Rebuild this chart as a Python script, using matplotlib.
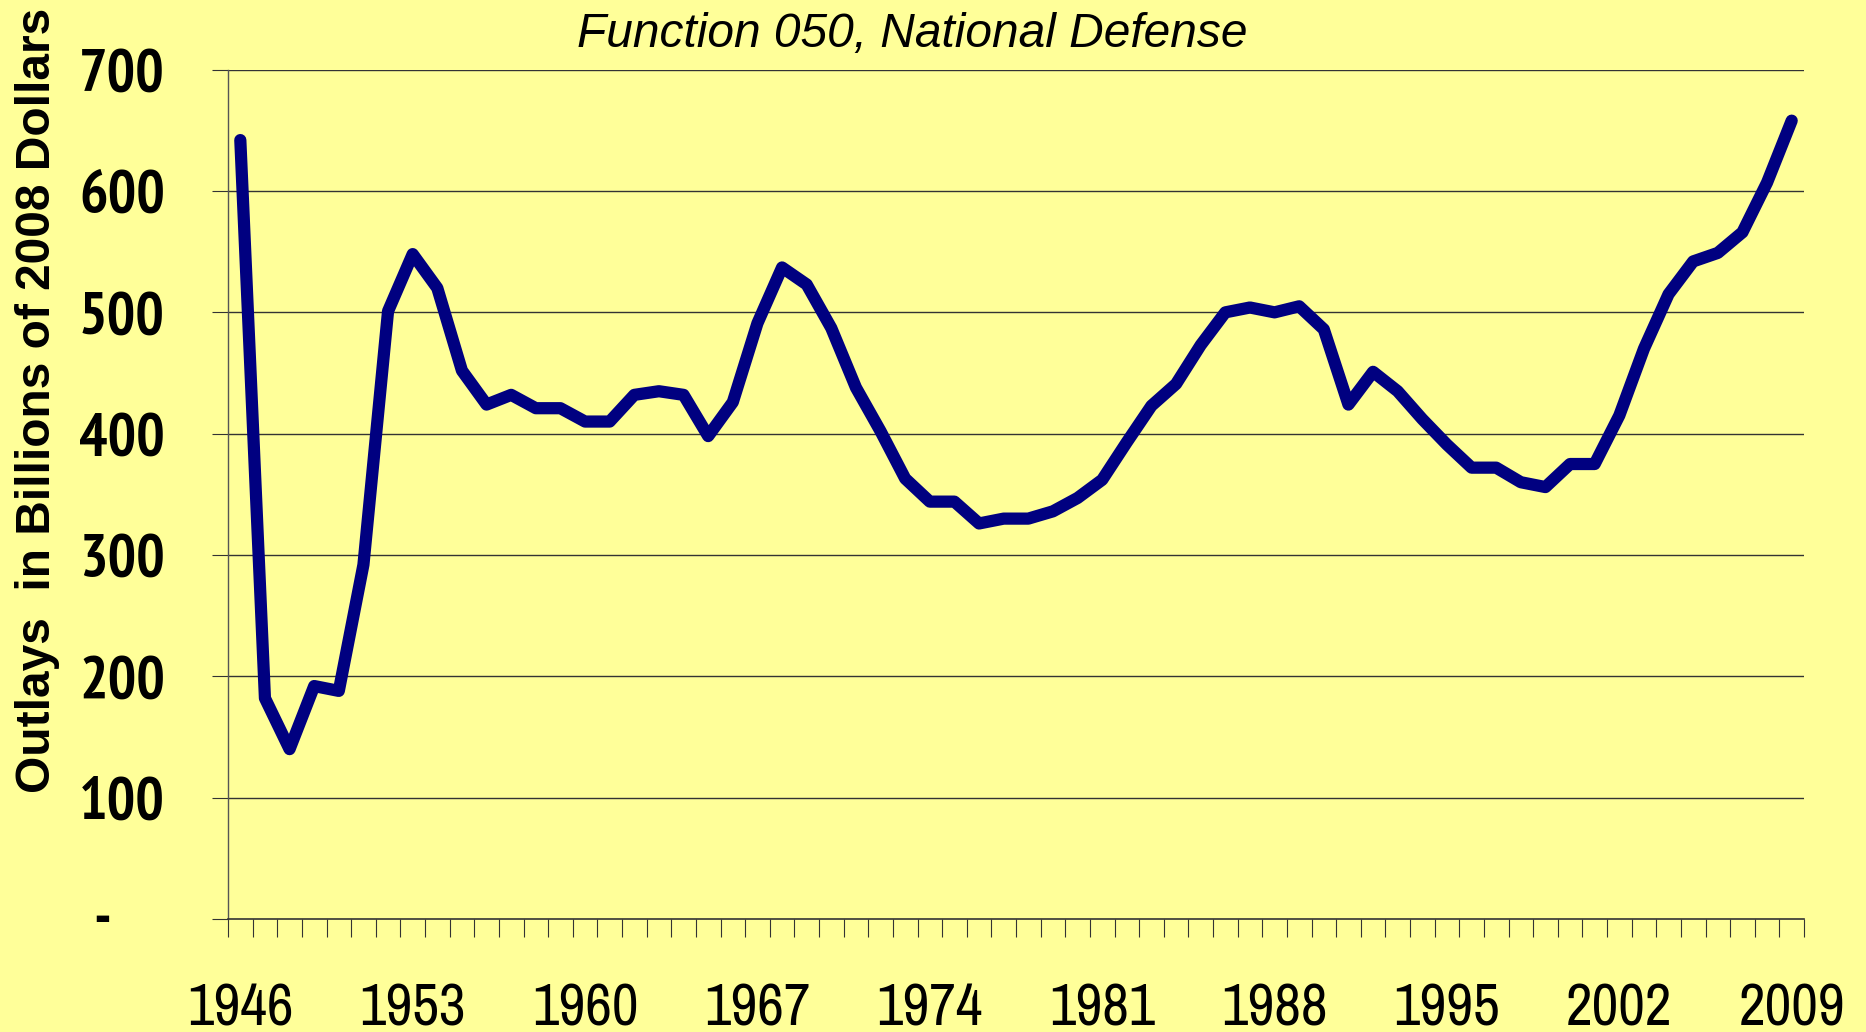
import matplotlib
matplotlib.use("Agg")
import numpy as np
from matplotlib import pyplot as plt
from matplotlib import font_manager
from matplotlib.ticker import FixedLocator, NullFormatter

years = list(range(1946, 2010))
outlays = [642, 182, 140, 192, 188, 292, 501, 548, 520, 452,
           424, 432, 421, 421, 410, 410, 432, 435, 432, 398,
           426, 491, 537, 523, 487, 438, 402, 363, 344, 344,
           326, 330, 330, 336, 347, 362, 393, 423, 441, 473,
           500, 504, 500, 505, 486, 424, 451, 435, 412, 391,
           372, 372, 360, 356, 375, 375, 415, 470, 515, 542,
           549, 566, 607, 658]
label_years = [1946, 1953, 1960, 1967, 1974, 1981, 1988, 1995, 2002, 2009]
y_ticks = [0, 100, 200, 300, 400, 500, 600, 700]

title = "Function 050, National Defense"
ylabel = "Outlays  in Billions of 2008 Dollars"

bg = "#FFFF99"
line_color = "#000080"

# Arial Narrow look-alikes; the bold one must really have a bold face installed
narrow_pref = ["Liberation Sans Narrow", "Arial Narrow", "Archivo Narrow", "PT Sans Narrow",
               "Roboto Condensed", "Sofia Sans Condensed", "Barlow Condensed"]
faces = font_manager.fontManager.ttflist
regular = [n for n in narrow_pref if any(f.name == n for f in faces)]
bold = [n for n in narrow_pref if any(f.name == n and f.weight in (700, "bold") for f in faces)]
narrow = regular[:1] + ["DejaVu Sans"]
narrow_bold = (bold or regular)[:1] + ["DejaVu Sans"]
wide = ["Liberation Sans", "DejaVu Sans"]

W, H, dpi = 1866, 1032, 100
fig = plt.figure(figsize=(W / dpi, H / dpi), dpi=dpi, facecolor=bg)
ax = fig.add_axes([228 / W, 113 / H, (1804 - 228) / W, (919 - 69.7) / H])
ax.set_facecolor(bg)

x = np.arange(len(years))
ax.plot(x, outlays, color=line_color, lw=8.8, solid_capstyle="round",
        solid_joinstyle="round", zorder=3)

ax.set_xlim(-0.5, len(years) - 0.5)
ax.set_ylim(0, 700)

for v in y_ticks[1:]:
    ax.axhline(v, color="#333333", lw=1.0, zorder=1)

for s in ["top", "right"]:
    ax.spines[s].set_visible(False)
ax.spines["left"].set_color("#555555")
ax.spines["bottom"].set_color("#333333")
ax.spines["left"].set_linewidth(1.0)
ax.spines["bottom"].set_linewidth(1.2)

# x: ticks at category boundaries, labels at category centres
ax.xaxis.set_major_locator(FixedLocator(np.arange(len(years) + 1) - 0.5))
ax.xaxis.set_major_formatter(NullFormatter())
ax.xaxis.set_minor_locator(FixedLocator([years.index(y) for y in label_years]))
ax.set_xticklabels([str(y) for y in label_years], minor=True)
ax.tick_params(axis="x", which="major", direction="out", length=13, width=0.8, color="#333333")
ax.tick_params(axis="x", which="minor", length=0, pad=46)
for t in ax.get_xticklabels(minor=True):
    t.set_fontfamily(narrow)
    t.set_fontsize(42)

ax.set_yticks(y_ticks)
ax.set_yticklabels([""] + [str(v) for v in y_ticks[1:]])
ax.tick_params(axis="y", direction="out", length=11.5, width=0.8, color="#333333", pad=34)
for t in ax.get_yticklabels():
    t.set_fontfamily(narrow_bold)
    t.set_fontsize(43)
    t.set_fontweight("bold")
fig.text(102 / W, 1 - 921 / H, "-", fontsize=43, fontweight="bold", family=narrow_bold,
         ha="center", va="center")

fig.text(912 / W, 1 - 34 / H, title, fontsize=34.5, style="italic", family=wide,
         ha="center", va="center")
fig.text(38 / W, 1 - 400 / H, ylabel, fontsize=34.5, fontweight="bold", family=wide,
         rotation=90, ha="center", va="center")

plt.savefig("out.png", dpi=dpi, facecolor=bg)
plt.close()
